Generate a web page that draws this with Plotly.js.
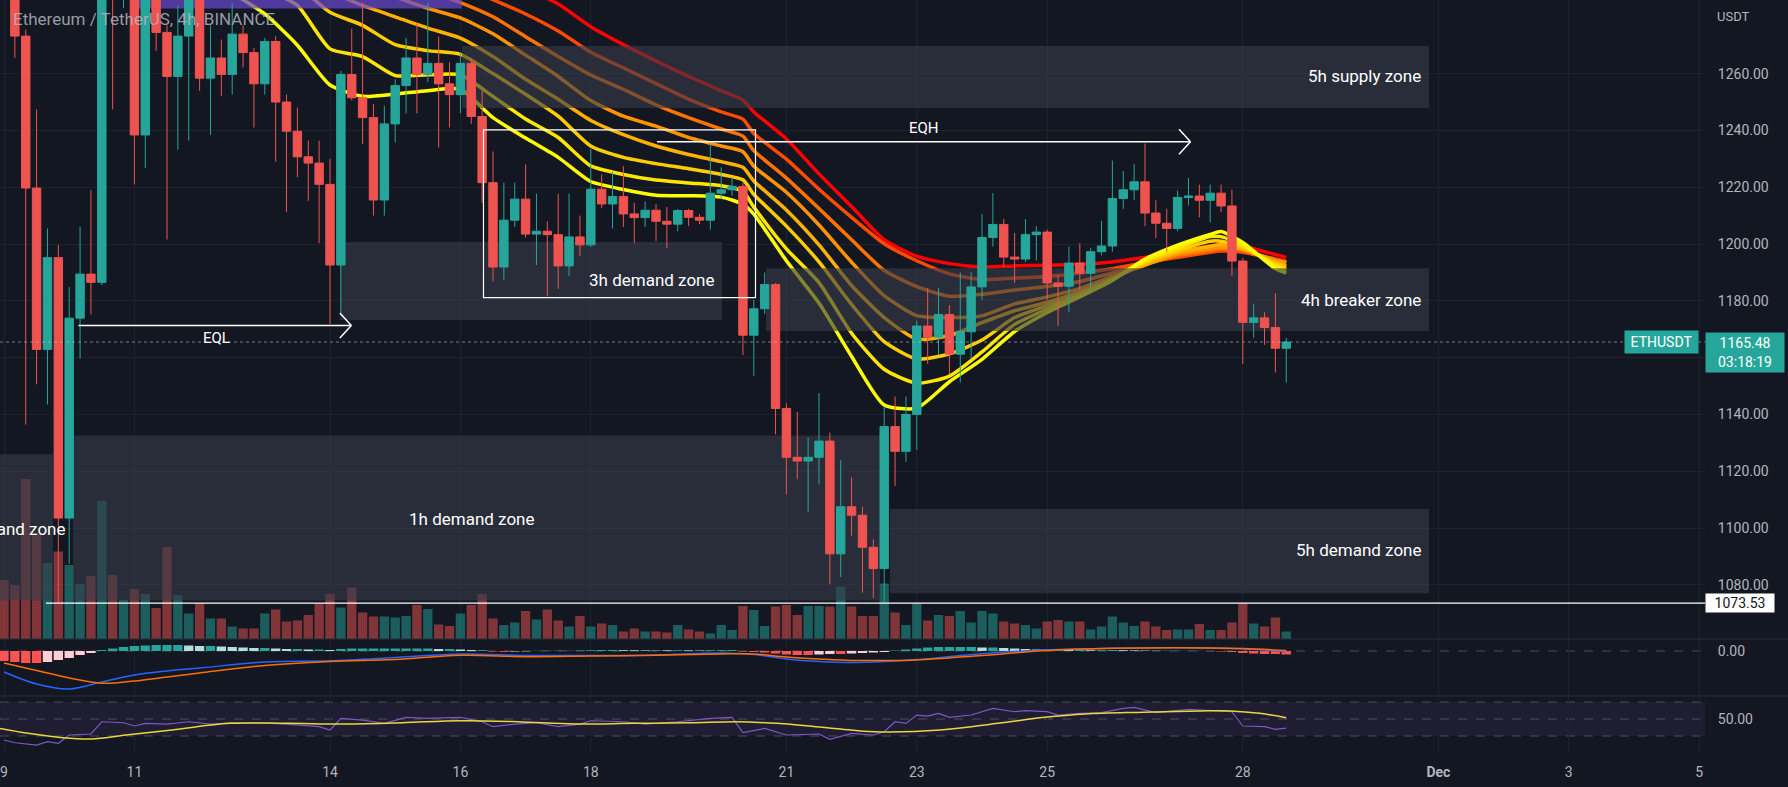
<!DOCTYPE html>
<html><head><meta charset="utf-8">
<script src="https://cdn.plot.ly/plotly-3.0.1.min.js"></script>
<style>html,body{margin:0;padding:0;background:#131722;}#chart{width:1788px;height:787px;}</style>
</head><body><div id="chart"></div>
<script>
// ---------- DATA ----------
// 4h bars, first bar = 2022-11-09 00:00 (UTC)
const open = [1330,1310,1273.2,1219.7,1162.9,1195.2,1103.5,1173.9,1189.4,1186.5,
1292,1288,1296,1238.4,1288,1274.5,1259,1273.2,1290,1258.4,
1265.5,1259.7,1273.9,1267.4,1256.4,1271.3,1250,1239.7,1230.7,1228.5,
1221,1192.6,1259.7,1251.5,1244.5,1215.5,1242.3,1255.8,1265.5,1259.7,
1263.6,1256.4,1252.6,1263.6,1244.9,1221.6,1191.9,1208.4,1215.8,1203.5,
1204.5,1203.3,1192.3,1202.5,1199.7,1219.3,1214.1,1216.7,1210.6,1209.3,
1211.9,1208,1207,1211.8,1209.4,1208.4,1217.9,1219.1,1220.3,1167.9,
1177.2,1185.7,1142.1,1124.9,1123.6,1124.9,1130.6,1090.9,1107.5,1104.5,
1093.2,1085.7,1135.7,1127,1140,1171.1,1167.2,1175.2,1161.2,1169.1,
1184.9,1202.3,1206.9,1195.4,1194.7,1203.3,1204.2,1186.3,1185.1,1193.3,
1189.7,1197.3,1199.3,1216,1219.1,1221.9,1210.9,1207.3,1205.5,1216.4,
1216.9,1215.4,1217.9,1213.4,1194,1172.4,1174,1170.6,1163.3];
const high = [1345,1315,1275.5,1247.4,1205.5,1199.7,1184.8,1206.1,1219,1300,
1305,1310,1302,1292,1295,1277,1284,1298,1296,1277,
1272,1284.8,1277,1269,1272.6,1273.2,1252.6,1248,1236.4,1236.4,
1230,1260.9,1275.8,1285,1249.3,1248.7,1258,1272.6,1277.7,1285,
1273,1264,1267.4,1265.5,1253.9,1232.6,1221.6,1221.6,1228,1217.7,
1208,1217.7,1217.7,1210,1233.5,1224.5,1225.5,1227.4,1214.5,1215,
1214,1213,1212.4,1212.4,1210.5,1235.4,1227,1223.5,1221.5,1180.3,
1190,1186.3,1143.9,1140.9,1131.8,1147.5,1133.6,1123.9,1117.8,1107.5,
1096,1142.7,1146.3,1146.3,1173,1184.5,1184.5,1178.5,1190,1190,
1210.6,1217.9,1208.8,1203.9,1208.8,1206.3,1205.1,1189,1199.1,1200.3,
1198.7,1208.2,1229.4,1225.7,1228.2,1235.4,1215.4,1212.4,1218.8,1223.3,
1220.9,1220.9,1220.9,1219.1,1195,1179,1176,1182.7,1167];
const low = [1300,1265.5,1136.4,1150.6,1143.5,1073.53,1087.4,1159.7,1175.2,1185.5,
1247.4,1283,1221,1226.8,1268,1201.6,1233.2,1236.4,1253.9,1238.4,
1252,1252.6,1262.2,1241,1252.6,1229,1211.3,1223.5,1215.2,1200.3,
1171.9,1175.8,1250.6,1235.2,1210,1210,1235.8,1246,1246,1257,
1234,1241,1246,1242.3,1214.5,1186.8,1187.4,1206,1202.3,1192.6,
1181.6,1184.2,1188.7,1195.8,1199,1212.6,1205.5,1206,1200.3,1206,
1201,1198.5,1204.5,1206.3,1207,1205.1,1216,1217,1160.9,1153.6,
1175.4,1133,1111.8,1117.2,1105.7,1115.4,1080.2,1082.7,1097.2,1077.2,
1075.4,1074,1114.8,1123.3,1127.5,1157.8,1160.9,1154.2,1151.2,1159.7,
1180.3,1199.1,1191.8,1186.3,1193.6,1194.2,1180.3,1171.2,1176,1183.9,
1183.9,1196,1197.3,1212.4,1215.4,1206.3,1202.1,1197.3,1204.5,1213.6,
1209.4,1207.6,1211.2,1188.8,1157.8,1167,1164.5,1154.8,1151.2];
const close = [1310,1273.2,1219.7,1162.9,1195.2,1103.5,1173.9,1189.4,1186.5,1292,
1288,1296,1238.4,1288,1274.5,1259,1273.2,1290,1258.4,1265.5,
1259.7,1273.9,1267.4,1256.4,1271.3,1250,1239.7,1230.7,1228.5,1221,
1192.6,1259.7,1251.5,1244.5,1215.5,1242.3,1255.8,1265.5,1259.7,1263.6,
1256.4,1252.6,1263.6,1244.9,1221.6,1191.9,1208.4,1215.8,1203.5,1204.5,
1203.3,1192.3,1202.5,1199.7,1219.3,1214.1,1216.7,1210.6,1209.3,1211.9,
1208,1207,1211.8,1209.4,1208.4,1217.9,1219.1,1220.3,1167.9,1177.2,
1185.7,1142.1,1124.9,1123.6,1124.9,1130.6,1090.9,1107.5,1104.5,1093.2,
1085.7,1135.7,1127,1140,1171.1,1167.2,1175.2,1161.2,1169.1,1184.9,
1202.3,1206.9,1195.4,1194.7,1203.3,1204.2,1186.3,1185.1,1193.3,1189.7,
1197.3,1199.3,1216,1219.1,1221.9,1210.9,1207.3,1205.5,1216.4,1216.9,
1215.4,1217.9,1213.4,1194,1172.4,1174,1170.6,1163.3,1165.48];
// volume (thousand ETH)
const volume = [118,108,320,212,152,175,148,110,126,276,
128,78,100,90,62,184,88,51,71,41,
41,25,21,21,51,59,35,37,48,71,
90,63,103,53,45,45,43,46,68,60,
29,26,51,68,90,41,28,33,56,39,
59,37,25,46,25,31,28,15,21,15,
15,13,28,19,15,11,28,18,66,58,
26,65,68,48,66,66,65,105,65,46,
46,111,53,28,71,37,48,46,56,33,
56,51,35,31,28,21,35,38,35,35,
19,25,45,33,26,35,25,18,19,19,
30,18,18,33,71,31,25,43,15];
// MACD histogram per bar
const macdHist = [-10,-11,-12,-12,-11,-9,-7,-4,-2,
1,2.5,4,5,5.5,6,6,6,
5.5,5,5,4.5,4,3.5,3,3,2.5,2,2,1.5,1.5,
1,2,2.5,2.5,2.5,2.5,2.5,2.5,2.5,2.5,2,2,1.5,1,0.5,
-0.5,-0.8,-0.5,-0.3,0.2,0.3,0.2,0.3,0.5,0.8,1,1,0.8,0.7,0.6,0.8,0.7,0.8,0.6,0.5,0.8,0.9,1,
-0.5,-1,-1.5,-2.5,-3.5,-4,-4,-3.5,-3,-3,-2.5,-2,-1.5,-1,
0.5,1.5,2.5,3.5,4,4,4,4,3.5,3.5,3,2.5,2,2,1.5,1.5,
1,1,0.8,0.8,1,0.8,0.6,0.5,0.3,0.2,0.2,0.2,0.1,-0.2,
-0.5,-1,-2,-2.5,-3,-3,-3.5];

// EMA ribbon, sampled at days after 2022-11-11 00:00
const ribbonDays = [-2,-1,0,1,1.5,2,2.5,3,3.5,4,4.5,5,5.5,6,6.5,7,7.5,8,8.5,9,9.333,9.5,10,10.5,11,11.5,12,12.5,13,13.5,14,14.5,15,15.5,16,16.5,16.667,17,17.5,17.667];
const ema1 = [1380,1345,1318,1297,1288.5,1281,1270,1256,1252,1252.8,1254,1254.5,1244.5,1237.3,1230.5,1222,1219.2,1217.2,1217,1216.5,1214,1210.5,1194.1,1179.2,1160.4,1143.3,1142.2,1151.5,1159.4,1169.2,1175.9,1181.4,1187.2,1194.7,1199.6,1203.4,1204.4,1200.5,1191.3,1189.8];
const ema2 = [1390,1355,1326,1305,1296,1290,1284,1268.7,1266,1259.3,1259.6,1259.6,1252,1244,1237.5,1227.5,1224.5,1222.5,1221.5,1220.5,1218.5,1213,1198.3,1186.4,1168.6,1155.9,1151,1153.5,1162,1171.7,1177.1,1182,1187.4,1194.1,1198.6,1202.6,1202.6,1199.6,1192.3,1190.8];
const ema3 = [1400,1365,1335,1313,1304,1297,1291,1281.6,1277,1270.2,1268.1,1266.8,1260,1252.7,1245,1234.5,1230.5,1228.3,1226.5,1224.5,1222.6,1217.5,1206.3,1193.7,1178.7,1165.6,1159.5,1161.3,1166.2,1174.1,1178.3,1182.6,1187.7,1193.5,1197.7,1201,1201,1198.9,1192.9,1191.5];
const ema4 = [1410,1375,1345,1320,1310,1302,1295,1289,1284,1280,1276,1272.5,1266,1258,1251,1243.5,1238.5,1234.5,1231.5,1229,1227,1222.2,1212,1199.7,1185.4,1174.1,1166.5,1167.8,1172.3,1176.5,1179.5,1183.2,1188,1192.9,1197.1,1199.2,1199.8,1198.3,1193.5,1192.3];
const ema5 = [1420,1385,1355,1328,1317,1308,1301,1295,1291,1287,1283,1279.6,1274,1266.5,1259,1250.5,1245,1241.5,1237.5,1234.5,1232.5,1227.4,1218.2,1206.7,1193.6,1181.8,1174.8,1174.1,1174.7,1178.9,1181.4,1184.4,1188.6,1192.5,1196.5,1198.3,1198.9,1198.1,1194.1,1193.5];
const ema6 = [1430,1395,1365,1337,1325,1315,1307,1301,1297,1293,1289,1285,1280,1273,1266,1259.5,1254.5,1249,1244.5,1240.5,1238,1232.9,1223.2,1212.5,1201.5,1190.7,1185,1181.6,1182.3,1183.8,1185,1186.8,1189.8,1192.9,1195.9,1197.7,1198.3,1197.7,1194.5,1193.5];
const ema7 = [1440,1405,1375,1346,1334,1323,1315,1308,1303,1299,1295,1291,1286,1281,1275,1267.5,1262,1256.5,1251,1246.5,1244,1238.9,1229.9,1219.3,1209.4,1200.1,1194.1,1189.5,1187.5,1188,1188.6,1189.8,1191.3,1193.5,1195.3,1197.1,1197.5,1197.1,1194.7,1193.9];
const ema8 = [1450,1415,1385,1356,1344,1332,1323,1316,1310,1305,1301,1297,1293,1290,1284.5,1276.5,1270.2,1264.5,1259,1254,1250.7,1246.5,1237,1224.7,1213.2,1201.5,1195.7,1193.1,1191.9,1192.3,1192.5,1192.9,1193.7,1195.3,1197.1,1199.3,1199.8,1199.2,1196.3,1195.3];

// MACD lines, sampled at days after 2022-11-11
const macdDays = [-2,-1.5,-1,-0.5,0,0.5,1,2,3,4,5,6,7,8,9,9.5,10,10.5,11,11.5,12,13,14,15,16,17,17.667];
const macdLine = [-21,-33,-38,-31,-24,-20,-17,-11,-9.7,-6.5,-3,-4.5,-4.5,-4,-2,-3.5,-8,-10.5,-11.5,-10.5,-8.5,-2.7,1.2,2.7,3.3,2,-0.5];
const signalLine = [-12,-19.5,-27,-32.3,-30,-26,-22,-14.5,-10.5,-8.5,-4.2,-5.7,-5,-4.3,-3,-3,-6,-8,-9.5,-9.5,-9,-4.5,0.5,2.7,3.3,2.5,0.5];

// RSI at bar indices, RSI-based MA at days after 2022-11-11
const rsiBars = [0,1,3,4,5,6,8,9,11,12,13,15,17,19,21,23,26,29,30,31,33,35,37,39,42,44,45,47,49,51,53,54,57,59,62,65,67,68,70,72,75,76,78,80,81,82,83,84,85,86,87,89,91,93,94,96,97,99,101,103,104,106,109,111,113,114,116,117,118];
const rsiVals = [25.3,22.1,19.4,23.3,21.4,31.2,32.4,46.8,45.6,41.8,44.9,44.1,46.8,44.1,45.6,45.6,44.1,41,37.1,50.8,48.8,44.9,52,50.8,52,46.8,41,44.1,45.6,41,44.1,48,46.8,44.1,46.8,50.8,52,33.9,39,31.2,32.4,26.1,33.2,31.2,35,46.8,44.9,54.7,53.5,56.7,52,54.7,62.6,58.6,59.8,58.6,54.7,56.7,57.5,62.6,63.8,57.5,61.4,59.8,58.6,41.8,41,37.9,39.4];
const rsiMaDays = [-2.07,-1.63,-1.1,-0.66,-0.13,0.58,1.46,2.35,3.23,4.11,5,5.88,6.76,7.65,8.53,9.23,9.85,10.74,11.35,12.36,13.25,13.96,14.59,15.48,16.37,16.81,17.26,17.667];
const rsiMaVals = [39,33.2,28,26.5,31.2,37.1,44.9,44.9,44.1,45.6,48,46.8,44.1,44.9,45.6,46.8,44.9,39,35,37,45,52,56,58,59.5,59.5,56.7,51.5];

// drawn zones (days after 2022-11-11, prices)
const zones = [
  {d0:0.052, d1:5.02,  p0:1282.9, p1:1300,   kind:'purple'},
  {d0:-3.6,  d1:-1.248,p0:1074.5, p1:1126,   kind:'gray'},
  {d0:-0.942,d1:11.436,p0:1074.5, p1:1132.6, kind:'gray'},
  {d0:3.153, d1:9.012, p0:1173.2, p1:1200.7, kind:'gray'},
  {d0:5.025, d1:19.856,p0:1247.9, p1:1269.7, kind:'gray'},
  {d0:9.687, d1:19.856,p0:1169.4, p1:1191.5, kind:'gray'},
  {d0:11.589,d1:19.856,p0:1077,   p1:1106.7, kind:'gray'}
];
const zoneLabels = [
  {text:'5h supply zone',  d:19.77, p:1259.2, anchor:'right'},
  {text:'4h breaker zone', d:19.77, p:1180.3, anchor:'right'},
  {text:'5h demand zone',  d:19.77, p:1092.3, anchor:'right'},
  {text:'1h demand zone',  d:5.173, p:1103,   anchor:'center'},
  {text:'3h demand zone',  d:8.926, p:1187.3, anchor:'right'},
  {text:'4h demand zone',  d:-1.034,p:1099.7, anchor:'right'}
];
const boxRect = {d0:5.354, d1:9.526, p0:1181.1, p1:1240.2};
const eql = {d0:-0.857, d1:3.327, p:1171.3, labelD:1.252, labelP:1166.8};
const eqh = {d0:8.015,  d1:16.198, p:1236,  labelD:12.11, labelP:1240.7};
const levelLine = {d0:-1.356, p:1073.53};
const lastPrice = 1165.48;
const tickDays = [-2,0,3,5,7,10,12,14,17,20,22,24];
const tickText = ['9','11','14','16','18','21','23','25','28','<b>Dec</b>','3','5'];
const priceTicks = [1080,1100,1120,1140,1160,1180,1200,1220,1240,1260];

// ---------- HELPERS ----------
const H4 = 4*3600*1000, DAY = 24*3600*1000;
const T0 = Date.UTC(2022,10,9,0,0);
const NOV11 = Date.UTC(2022,10,11,0,0);
const p2 = n => String(n).padStart(2,'0');
function ds(ms){const d=new Date(ms);return d.getUTCFullYear()+'-'+p2(d.getUTCMonth()+1)+'-'+p2(d.getUTCDate())+' '+p2(d.getUTCHours())+':'+p2(d.getUTCMinutes())+':'+p2(d.getUTCSeconds());}
const dd = d => ds(NOV11 + d*DAY);
const bx = n => ds(T0 + n*H4);
const barX = open.map((_,i)=>bx(i));
const UP='#26a69a', DN='#ef5350';
const FONT='Roboto, sans-serif';

const data = [];
// volume (base axis, bottom layer)
data.push({type:'bar', x:barX, y:volume, yaxis:'y', width:H4*0.86,
  marker:{color: open.map((o,i)=> close[i]>=o ? 'rgba(38,166,154,0.5)' : 'rgba(239,83,80,0.5)'), line:{width:0}},
  hoverinfo:'skip'});
// ribbon
const ribbon=[ema1,ema2,ema3,ema4,ema5,ema6,ema7,ema8];
const ribbonColors=['#FFFF00','#FFE600','#FFCC00','#FFB000','#FF9400','#FF7200','#FF4A00','#FF0000'];
const rx = ribbonDays.map(dd);
for(let i=7;i>=0;i--){
  data.push({type:'scatter', mode:'lines', x:rx, y:ribbon[i], yaxis:'y2',
    line:{color:ribbonColors[i], width:3.5, shape:'spline', smoothing:0.6}, hoverinfo:'skip'});
}
// zones (above ribbon, below candles)
zones.forEach(z=>{
  data.push({type:'scatter', mode:'lines', yaxis:'y2',
    x:[z.d0,z.d1,z.d1,z.d0,z.d0].map(dd), y:[z.p0,z.p0,z.p1,z.p1,z.p0],
    fill:'toself', fillcolor: z.kind==='purple' ? 'rgba(105,72,205,0.72)' : 'rgba(55,59,72,0.62)',
    line:{width:0}, hoverinfo:'skip'});
});
// candles
data.push({type:'candlestick', x:barX, open:open, high:high, low:low, close:close, yaxis:'y3',
  increasing:{line:{color:UP,width:1}, fillcolor:UP}, decreasing:{line:{color:DN,width:1}, fillcolor:DN},
  whiskerwidth:0, hoverinfo:'skip'});
// MACD
const histColors = macdHist.map((v,i)=>{const pv=i>0?macdHist[i-1]:v; return v>=0 ? (v>=pv?'#26A69A':'#B2DFDB') : (v>pv?'#FFCDD2':'#FF5252');});
data.push({type:'bar', x:barX, y:macdHist, yaxis:'y4', width:H4*0.86, marker:{color:histColors, line:{width:0}}, hoverinfo:'skip'});
const mx = macdDays.map(dd);
data.push({type:'scatter', mode:'lines', x:mx, y:macdLine, yaxis:'y4', line:{color:'#2962FF', width:1.5, shape:'spline'}, hoverinfo:'skip'});
data.push({type:'scatter', mode:'lines', x:mx, y:signalLine, yaxis:'y4', line:{color:'#FF6D00', width:1.5, shape:'spline'}, hoverinfo:'skip'});
// RSI
data.push({type:'scatter', mode:'lines', x:rsiBars.map(bx), y:rsiVals, yaxis:'y5', line:{color:'#7E57C2', width:1.2}, hoverinfo:'skip'});
data.push({type:'scatter', mode:'lines', x:rsiMaDays.map(dd), y:rsiMaVals, yaxis:'y5', line:{color:'#E9D83C', width:1.5, shape:'spline'}, hoverinfo:'skip'});

// ---------- LAYOUT ----------
const PW = 1705, PH = 752;
const dPrice=[113/PH,1], dMacd=[56/PH,113/PH], dRsi=[0,56/PH];
const xr=[dd(-134.4/65.2), dd((PW-134.4)/65.2)];
const priceRange=[1060.92,1285.92];
const tickFont={family:FONT, size:14, color:'#b2b5be'};
const shapes=[];
const W='#ffffff';
// RSI band + levels
shapes.push({type:'rect', xref:'paper', yref:'y5', x0:0, x1:1, y0:30, y1:70, fillcolor:'rgba(126,87,194,0.1)', line:{width:0}, layer:'below'});
[70,50,30].forEach(v=>shapes.push({type:'line', xref:'paper', yref:'y5', x0:0, x1:1, y0:v, y1:v, line:{color:'rgba(120,123,134,0.55)', width:1, dash:'dash'}, layer:'below'}));
shapes.push({type:'line', xref:'paper', yref:'y4', x0:0, x1:1, y0:0, y1:0, line:{color:'rgba(120,123,134,0.55)', width:1, dash:'dash'}, layer:'below'});
// pane separators
[dPrice[0], dMacd[0]].forEach(v=>shapes.push({type:'line', xref:'paper', yref:'paper', x0:0, x1:1788/PW, y0:v, y1:v, line:{color:'#2a2e39', width:1}}));
// last price dotted line
shapes.push({type:'line', xref:'paper', yref:'y2', x0:0, x1:1, y0:lastPrice, y1:lastPrice, line:{color:'rgba(190,200,205,0.55)', width:1, dash:'dot'}});
// 1073.53 level
shapes.push({type:'line', xref:'x', yref:'y2', x0:dd(levelLine.d0), x1:xr[1], y0:levelLine.p, y1:levelLine.p, line:{color:W, width:1.3}});
// white box
shapes.push({type:'rect', xref:'x', yref:'y2', x0:dd(boxRect.d0), x1:dd(boxRect.d1), y0:boxRect.p0, y1:boxRect.p1, line:{color:W, width:1.2}, fillcolor:'rgba(0,0,0,0)'});
// EQL / EQH arrows
[eql,eqh].forEach(a=>{
  shapes.push({type:'line', xref:'x', yref:'y2', x0:dd(a.d0), x1:dd(a.d1), y0:a.p, y1:a.p, line:{color:W, width:1.5}});
  shapes.push({type:'line', xref:'x', yref:'y2', x0:dd(a.d1-0.176), x1:dd(a.d1), y0:a.p+4.4, y1:a.p, line:{color:W, width:1.5}});
  shapes.push({type:'line', xref:'x', yref:'y2', x0:dd(a.d1-0.176), x1:dd(a.d1), y0:a.p-4.4, y1:a.p, line:{color:W, width:1.5}});
});

const ann=[];
ann.push({xref:'paper', yref:'paper', x:11/PW, y:1-19/PH, xanchor:'left', yanchor:'middle', showarrow:false,
  text:'Ethereum / TetherUS, 4h, BINANCE', font:{family:FONT, size:17, color:'rgba(178,181,190,0.85)'}});
zoneLabels.forEach(l=>ann.push({xref:'x', yref:'y2', x:dd(l.d), y:l.p, xanchor:l.anchor, yanchor:'middle', showarrow:false,
  text:l.text, font:{family:FONT, size:17, color:'#ffffff'}}));
ann.push({xref:'x', yref:'y2', x:dd(eql.labelD), y:eql.labelP, showarrow:false, text:'EQL', font:{family:FONT, size:15, color:'#ffffff'}});
ann.push({xref:'x', yref:'y2', x:dd(eqh.labelD), y:eqh.labelP, showarrow:false, text:'EQH', font:{family:FONT, size:15, color:'#ffffff'}});
ann.push({xref:'paper', yref:'paper', x:1+28/PW, y:1-16/PH, xanchor:'center', yanchor:'middle', showarrow:false, text:'USDT', font:{family:FONT, size:13, color:'#b2b5be'}});
ann.push({xref:'paper', yref:'y2', x:1, xshift:-6, y:lastPrice, xanchor:'right', yanchor:'middle', showarrow:false, text:'ETHUSDT',
  bgcolor:UP, width:67, height:16, borderpad:3, font:{family:FONT, size:14, color:'#ffffff'}});
ann.push({xref:'paper', yref:'y2', x:1, y:lastPrice, yshift:10.5, xanchor:'left', yanchor:'top', showarrow:false, text:'1165.48<br>03:18:19',
  bgcolor:UP, width:72, height:33, borderpad:3, font:{family:FONT, size:14, color:'#ffffff'}});
ann.push({xref:'paper', yref:'y2', x:1, y:levelLine.p, xanchor:'left', yanchor:'middle', showarrow:false, text:'1073.53',
  bgcolor:'#ffffff', width:64, height:14, borderpad:2, font:{family:FONT, size:14, color:'#131722'}});

const layout = {
  width:1788, height:787, margin:{l:0, r:83, t:0, b:35},
  paper_bgcolor:'#131722', plot_bgcolor:'#131722',
  showlegend:false, hovermode:false, barmode:'overlay', boxgap:0.12, boxgroupgap:0.12,
  font:{family:FONT, color:'#b2b5be'},
  xaxis:{type:'date', range:xr, anchor:'y5', rangeslider:{visible:false},
    tickvals:tickDays.map(dd), ticktext:tickText, tickfont:tickFont,
    showgrid:true, gridcolor:'#1e222d', gridwidth:1, zeroline:false, showline:false,
    ticks:'outside', ticklen:7, tickcolor:'rgba(0,0,0,0)', fixedrange:true},
  yaxis:{domain:dPrice, range:[0,1278], visible:false, showgrid:false, fixedrange:true},
  yaxis2:{overlaying:'y', anchor:'x', side:'right', range:priceRange, tickvals:priceTicks,
    ticktext:priceTicks.map(v=> v===1160 ? '' : v.toFixed(2)), tickfont:tickFont, showgrid:true, gridcolor:'#1e222d',
    zeroline:false, showline:false, ticks:'outside', ticklen:9, tickcolor:'rgba(0,0,0,0)', fixedrange:true},
  yaxis3:{overlaying:'y', anchor:'x', range:priceRange, visible:false, showgrid:false, fixedrange:true},
  yaxis4:{domain:dMacd, anchor:'x', side:'right', range:[-45,12], tickvals:[0], ticktext:['0.00'], tickfont:tickFont,
    showgrid:false, zeroline:false, ticks:'outside', ticklen:9, tickcolor:'rgba(0,0,0,0)', fixedrange:true},
  yaxis5:{domain:dRsi, anchor:'x', side:'right', range:[11.2,77.1], tickvals:[50], ticktext:['50.00'], tickfont:tickFont,
    showgrid:false, zeroline:false, ticks:'outside', ticklen:9, tickcolor:'rgba(0,0,0,0)', fixedrange:true},
  shapes:shapes, annotations:ann
};
Plotly.newPlot('chart', data, layout, {staticPlot:true, displayModeBar:false});
</script></body></html>
